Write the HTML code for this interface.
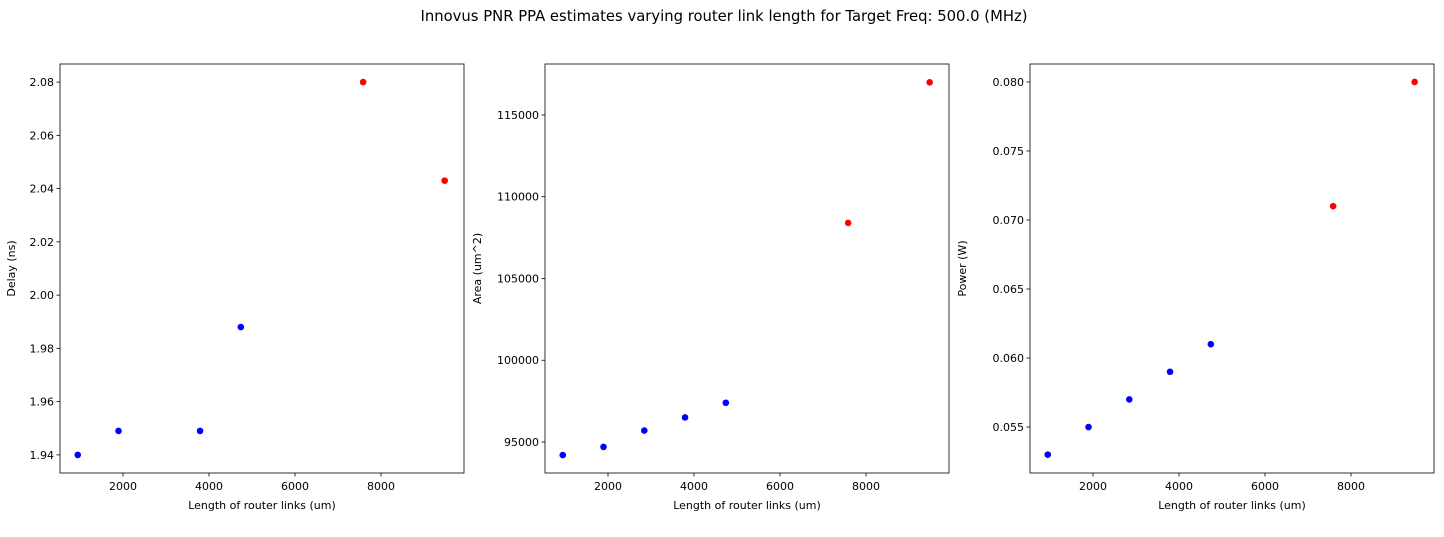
<!DOCTYPE html>
<html><head><meta charset="utf-8"><style>
body{margin:0;background:#fff;}
svg text{font-family:"DejaVu Sans","Liberation Sans",sans-serif;fill:#000;}
</style></head><body>
<svg id="fig" width="1444" height="532" xmlns="http://www.w3.org/2000/svg">
<text x="724" y="21" text-anchor="middle" font-size="14.8">Innovus PNR PPA estimates varying router link length for Target Freq: 500.0 (MHz)</text>
</svg>
<script>
const delayX = [948, 1896, 3792, 4740, 7584, 9480];
const delayY = [1.940, 1.949, 1.949, 1.988, 2.080, 2.043];
const delayColor = ['blue','blue','blue','blue','red','red'];
const areaX = [948, 1896, 2844, 3792, 4740, 7584, 9480];
const areaY = [94200, 94700, 95700, 96500, 97400, 108400, 117000];
const powerX = [948, 1896, 2844, 3792, 4740, 7584, 9480];
const powerY = [0.053, 0.055, 0.057, 0.059, 0.061, 0.071, 0.080];
const ppaColor = ['blue','blue','blue','blue','blue','red','red'];
const xTicks = [2000, 4000, 6000, 8000];
const delayTicks = [1.94, 1.96, 1.98, 2.00, 2.02, 2.04, 2.06, 2.08];
const areaTicks = [95000, 100000, 105000, 110000, 115000];
const powerTicks = [0.055, 0.060, 0.065, 0.070, 0.075, 0.080];

const NS = 'http://www.w3.org/2000/svg';
const svg = document.getElementById('fig');
function mk(tag, attrs, parent){const e=document.createElementNS(NS,tag);for(const k in attrs)e.setAttribute(k,attrs[k]);(parent||svg).appendChild(e);return e;}

function panel(name, left, xs, ys, colors, yTicks, yDom, yFmt, ylabel){
  const top=64, bottom=473, right=left+404;
  const xDom=[535, 9930];
  const sx=v=>left+(v-xDom[0])/(xDom[1]-xDom[0])*(right-left);
  const sy=v=>bottom-(v-yDom[0])/(yDom[1]-yDom[0])*(bottom-top);
  const g=mk('g',{});
  
  
  const frame=mk('rect',{x:left,y:top,width:right-left,height:bottom-top,fill:'none',stroke:'#000','stroke-width':0.8},g);
  
  
  xTicks.forEach(t=>{
    const x=sx(t);
    mk('line',{x1:x,x2:x,y1:bottom,y2:bottom+3.5,stroke:'#000','stroke-width':0.8},g);
    const tx=mk('text',{x:x,y:bottom+17,'text-anchor':'middle','font-size':11},g);
    tx.textContent=t;
    
    
  });
  yTicks.forEach(t=>{
    const y=sy(t);
    mk('line',{x1:left-3.5,x2:left,y1:y,y2:y,stroke:'#000','stroke-width':0.8},g);
    const tx=mk('text',{x:left-6,y:y+4,'text-anchor':'end','font-size':11},g);
    tx.textContent=yFmt(t);
    
    
  });
  const xl=mk('text',{x:(left+right)/2,y:509,'text-anchor':'middle','font-size':11},g);
  xl.textContent='Length of router links (um)';
  
  
  const lx = name==='delay'? left-45 : left-64;
  const yl=mk('text',{x:lx,y:(top+bottom)/2,'text-anchor':'middle','font-size':11,transform:`rotate(-90 ${lx} ${(top+bottom)/2})`},g);
  yl.textContent=ylabel;
  
  
  xs.forEach((v,i)=>{
    const c=mk('circle',{cx:sx(v),cy:sy(ys[i]),r:3.3,fill:colors[i]},g);
    
    
  });
}
panel('delay', 60, delayX, delayY, delayColor, delayTicks, [1.9332, 2.0868], t=>t.toFixed(2), 'Delay (ns)');
panel('area', 545, areaX, areaY, ppaColor, areaTicks, [93104, 118119], t=>String(t), 'Area (um^2)');
panel('power', 1030, powerX, powerY, ppaColor, powerTicks, [0.05167, 0.0813], t=>t.toFixed(3), 'Power (W)');
</script>
</body></html>
